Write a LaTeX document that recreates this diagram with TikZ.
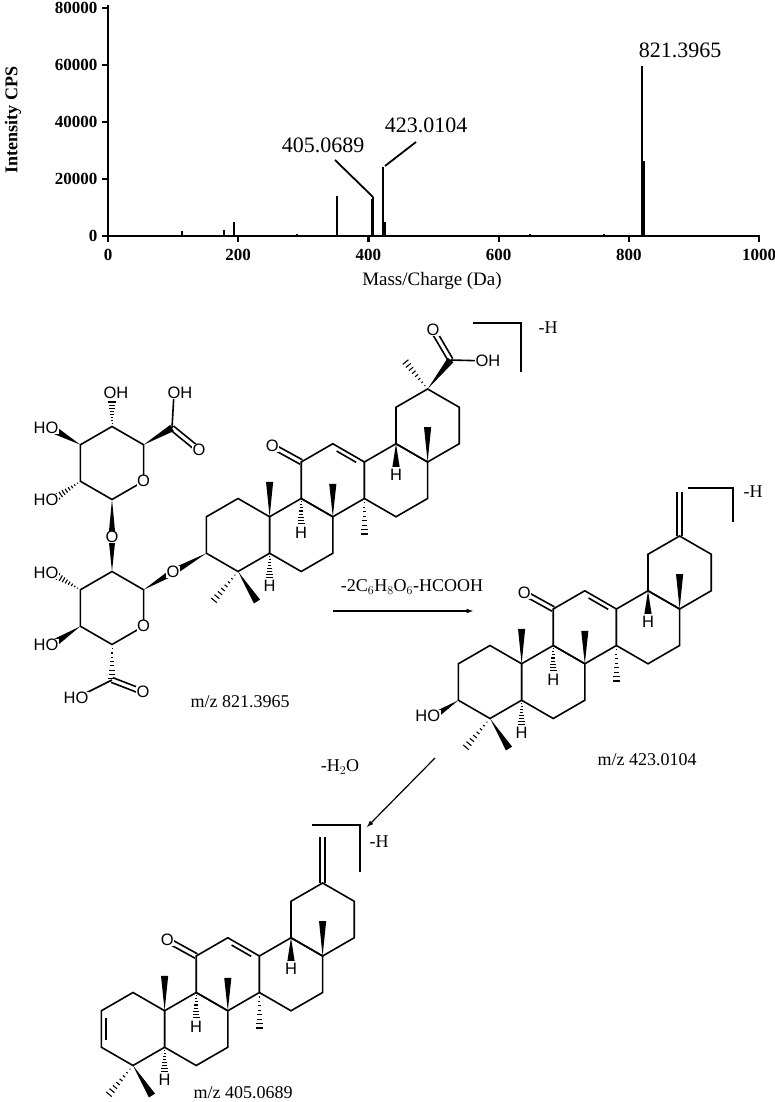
\documentclass[tikz,border=0pt]{standalone}
\usepackage{fontspec}
\setmainfont{Liberation Serif}
\newfontfamily\atomfont{Liberation Sans}
\usetikzlibrary{calc}

\tikzset{
  bond/.style={line width=1.6pt, line join=miter},
  atom/.style={font=\atomfont\fontsize{16.5}{16.5}\selectfont, inner sep=0.6pt, fill=white},
  axis/.style={line width=2.2pt},
  peak/.style={line width=2pt},
  lbl/.style={font=\fontsize{18}{18}\selectfont, inner sep=0pt},
}

% regular ring, pointy top, names #1-1 (top) ... #1-6 clockwise
\newcommand\hexring[3]{%
  \coordinate (#1c) at (#2,#3);
  \coordinate (#1-1) at ($(#1c)+(0,-36.5)$);
  \coordinate (#1-2) at ($(#1c)+(31.6,-18.25)$);
  \coordinate (#1-3) at ($(#1c)+(31.6,18.25)$);
  \coordinate (#1-4) at ($(#1c)+(0,36.5)$);
  \coordinate (#1-5) at ($(#1c)+(-31.6,18.25)$);
  \coordinate (#1-6) at ($(#1c)+(-31.6,-18.25)$);
  \draw[bond] (#1-1) -- (#1-2) -- (#1-3) -- (#1-4) -- (#1-5) -- (#1-6) -- cycle;}
\newcommand\wdg[2]{\fill (#1) -- ($(#2)!3.6pt!90:(#1)$) -- ($(#2)!3.6pt!-90:(#1)$) -- cycle;}
\newcommand\hsh[2]{\foreach \t in {0.12,0.24,...,1.0}{%
  \path (#1) -- (#2) coordinate[pos=\t] (hh);
  \draw[line width=1.1pt] ($(hh)!{\t*3.8pt}!90:(#2)$) -- ($(hh)!{\t*3.8pt}!-90:(#2)$);}}
\newcommand\inner[3]{\draw[bond] ($(#1)!0.14!(#2)!0.14!(#3)$) -- ($(#2)!0.14!(#1)!0.14!(#3)$);}
\newcommand\dblout[2]{\draw[bond] ($(#1)!2.5pt!90:(#2)$) -- ($(#2)!2.5pt!-90:(#1)$);
  \draw[bond] ($(#1)!2.5pt!-90:(#2)$) -- ($(#2)!2.5pt!90:(#1)$);}

% pentacyclic core, ring A centre at (#2,#3)
\newcommand\core[3]{%
  \hexring{#1A}{#2}{#3}
  \hexring{#1B}{#2+63.2}{#3}
  \hexring{#1C}{#2+94.8}{#3-54.75}
  \hexring{#1D}{#2+158}{#3-54.75}
  \hexring{#1E}{#2+189.6}{#3-109.5}
  \inner{#1C-1}{#1C-2}{#1Cc}
  \wdg{#1A-2}{$(#1A-2)+(0,-35)$}
  \wdg{#1B-2}{$(#1B-2)+(0,-33)$}
  \hsh{#1C-3}{$(#1C-3)+(0,37)$}
  \wdg{#1E-4}{$(#1E-4)+(0,-35)$}
  \hsh{#1A-4}{$(#1A-4)+(-25,30)$}
  \wdg{#1A-4}{$(#1A-4)+(19,30)$}
  \coordinate (#1h5) at ($(#1A-3)+(0,33)$);
  \coordinate (#1h9) at ($(#1B-1)+(0,34)$);
  \coordinate (#1h18) at ($(#1D-1)+(0,31)$);
  \hsh{#1A-3}{$(#1h5)+(0,-8)$}
  \hsh{#1B-1}{$(#1h9)+(0,-8)$}
  \wdg{#1D-1}{$(#1h18)+(0,-8)$}
  \coordinate (#1ok) at ($(#1C-6)+(-29,-16)$);
  \dblout{#1C-6}{#1ok}
  \node[atom] (#1oket) at (#1ok) {O};
  \node[atom] (#1hh5) at (#1h5) {H};
  \node[atom] (#1hh9) at (#1h9) {H};
  \node[atom] (#1hh18) at (#1h18) {H};}

\begin{document}
\begin{tikzpicture}[x=1pt, y=-1pt]
\useasboundingbox (0,0) rectangle (775,1102);

% spectrum (intensities in thousands)
\draw[axis] (108,5) -- (108,236) -- (760,236);
\foreach \v [count=\k from 0] in {0,20000,40000,60000,80000}{
  \draw[axis] (102,236-57*\k) -- (108,236-57*\k);
  \node[font=\bfseries\fontsize{17}{17}\selectfont, anchor=east] (yt\k) at (101,236-57*\k) {\v};}
\foreach \v [count=\k from 0] in {0,200,400,600,800,1000}{
  \draw[axis] (108+130.2*\k,236) -- (108+130.2*\k,242);
  \node[font=\bfseries\fontsize{17}{17}\selectfont] (xt\k) at (108+130.2*\k,255) {\v};}
\foreach \m/\i in {75/0.3,85/0.4,100/0.3,113/1.8,178/2,193/5,290/0.8,352/14,
  405/13,407/13.5,423/24,425/5,630/0.4,648/0.6,762/0.6,821/59,823/26}{
  \draw[peak] (108+0.651*\m,236) -- (108+0.651*\m,236-2.875*\i);}
\node[font=\fontsize{19}{19}\selectfont] (xlab) at (432,281) {Mass/Charge (Da)};
\node[font=\bfseries\fontsize{18}{18}\selectfont, rotate=90] (ylab) at (13,120) {Intensity CPS};
\node[font=\fontsize{22}{22}\selectfont] (p821) at (680,50) {821.3965};
\node[font=\fontsize{22}{22}\selectfont] (p405) at (323,145) {405.0689};
\node[font=\fontsize{22}{22}\selectfont] (p423) at (426,125) {423.0104};
\coordinate (t405) at (373,197);
\coordinate (t423) at (385,166);
\draw[line width=1.8pt] (335,160) -- (t405);
\draw[line width=1.8pt] (416,142) -- (t423);

% m/z 821
\core{a}{238}{535}
\hsh{aE-1}{$(aE-1)+(-23,-28)$}
\coordinate (acx) at ($(aE-1)+(23,-29)$);
\wdg{aE-1}{acx}
\coordinate (aox) at (433,330);
\coordinate (aoh) at (488,361);
\dblout{acx}{aox}
\draw[bond] (acx) -- (aoh);
\node[atom] (aoxt) at (aox) {O};
\node[atom] (aoht) at (aoh) {OH};
\coordinate (ao3) at (173,572);
\wdg{aA-5}{ao3}
\draw[bond] (473,323) -- (521,323) -- (521,372);
\node[lbl] (ah) at (548,328) {-H};
% sugars
\hexring{u}{112}{463}
\hexring{l}{112}{608}
\coordinate (uo1) at (112,537);
\wdg{u-4}{uo1}
\wdg{l-1}{uo1}
\wdg{l-2}{ao3}
\coordinate (uoh3) at (116,393);
\hsh{u-1}{$(uoh3)+(-4,8)$}
\coordinate (uoh4) at (46,428);
\wdg{u-6}{$(uoh4)+(10,3)$}
\coordinate (uoh2) at (46,500);
\hsh{u-5}{$(uoh2)+(11,-3)$}
\coordinate (ucx) at (172,428);
\wdg{u-2}{ucx}
\coordinate (uco) at (199,450);
\coordinate (ucoh) at (180,393);
\draw[bond] (ucx) -- ($(ucoh)+(-6,0)$);
\dblout{ucx}{uco}
\coordinate (loh3) at (46,573);
\hsh{l-6}{$(loh3)+(11,3)$}
\coordinate (loh4) at (46,645);
\wdg{l-5}{$(loh4)+(10,-3)$}
\coordinate (lcx) at (112,680);
\hsh{l-4}{lcx}
\coordinate (lco) at (143,692);
\coordinate (lcoh) at (76,698);
\dblout{lcx}{lco}
\draw[bond] (lcx) -- (lcoh);
\node[atom] (uo1t) at (uo1) {O};
\node[atom] (ao3t) at (ao3) {O};
\node[atom] (uringo) at (u-3) {O};
\node[atom] (lringo) at (l-3) {O};
\node[atom] (uoh3t) at (uoh3) {OH};
\node[atom] (uoh4t) at (uoh4) {HO};
\node[atom] (uoh2t) at (uoh2) {HO};
\node[atom] (ucot) at (uco) {O};
\node[atom] (ucoht) at (ucoh) {OH};
\node[atom] (loh3t) at (loh3) {HO};
\node[atom] (loh4t) at (loh4) {HO};
\node[atom] (lcot) at (lco) {O};
\node[atom] (lcoht) at (lcoh) {HO};
\node[lbl] (mz1) at (240,702) {m/z 821.3965};

% step 1
\coordinate (r1s) at (333,611);
\coordinate (r1e) at (473,611);
\draw[line width=1.2pt, -latex] (r1s) -- (r1e);
\node[lbl] (r1l) at (412,587) {-2C$_6$H$_8$O$_6$-HCOOH};

% m/z 423
\core{b}{490}{682}
\coordinate (bo3) at (434,716);
\wdg{bA-5}{bo3}
\node[atom, anchor=east] (bo3t) at ($(bo3)+(7,0)$) {HO};
\coordinate (bch) at ($(bE-1)+(0,-44)$);
\dblout{bE-1}{bch}
\draw[bond] (688,488) -- (733,488) -- (733,522);
\node[lbl] (bh) at (753,492) {-H};
\node[lbl] (mz2) at (647,760) {m/z 423.0104};

% step 2
\coordinate (r2s) at (435,758);
\coordinate (r2e) at (367,827);
\draw[line width=1.2pt, -latex] (r2s) -- (r2e);
\node[lbl] (r2l) at (340,767) {-H$_2$O};

% m/z 405
\core{c}{133}{1029}
\inner{cA-6}{cA-5}{cAc}
\coordinate (cch) at ($(cE-1)+(0,-46)$);
\dblout{cE-1}{cch}
\draw[bond] (312,825) -- (360,825) -- (360,872);
\node[lbl] (ch) at (379,842) {-H};
\node[lbl] (mz3) at (243,1093) {m/z 405.0689};
\end{tikzpicture}
\end{document}
